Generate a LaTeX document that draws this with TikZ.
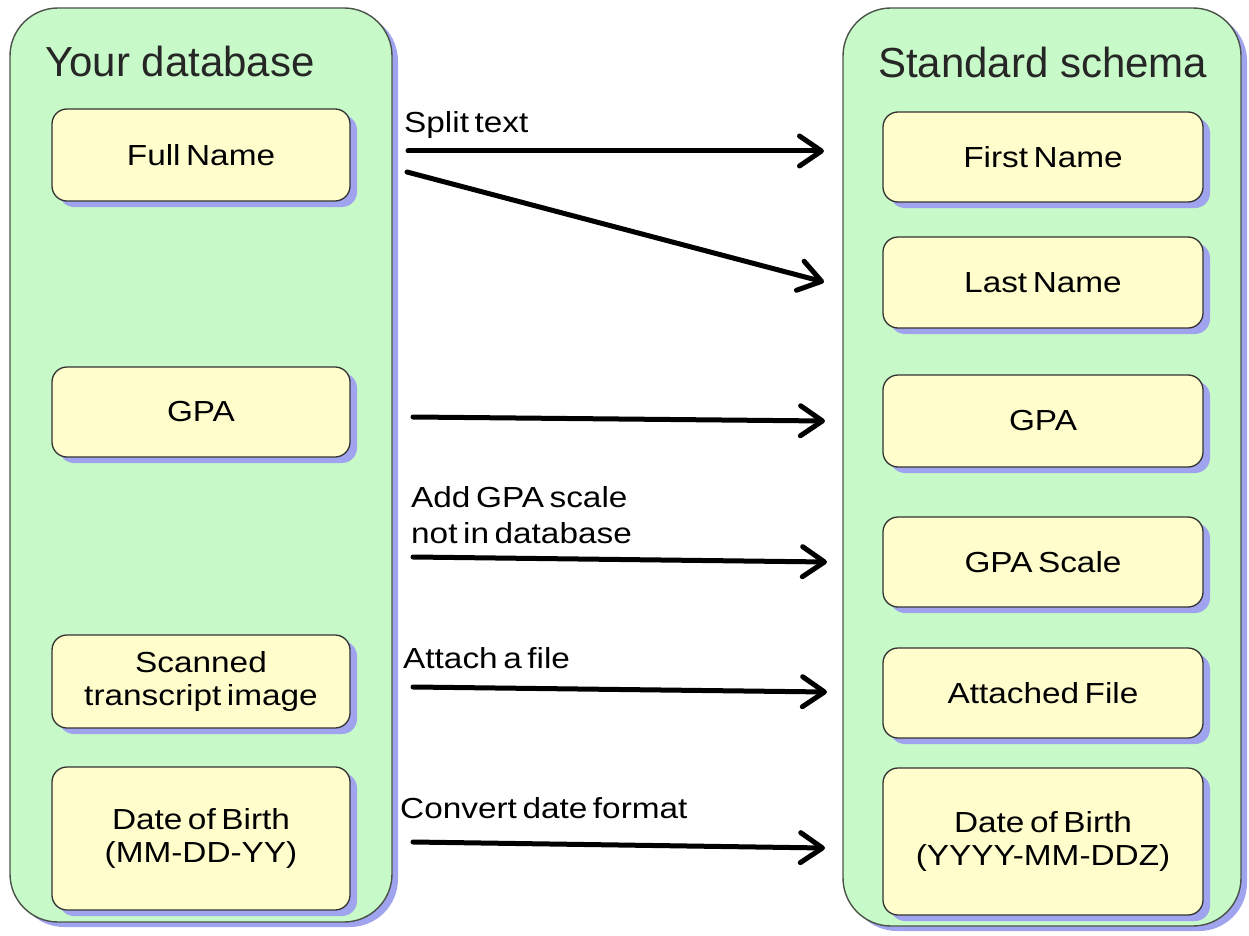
\documentclass[tikz,border=0pt]{standalone}
\usepackage{fontspec}
\setmainfont{Liberation Sans}
\newfontfamily\widefont[FakeStretch=1.15,WordSpace=0.6]{Liberation Sans}
\usetikzlibrary{arrows.meta,shadows}
\definecolor{cgreen}{HTML}{C8F9C8}
\definecolor{cyellow}{HTML}{FFFDCC}
\definecolor{cshadow}{HTML}{A0A4EE}
\definecolor{cborder}{HTML}{4A524A}
\tikzset{
  container/.style={draw=cborder, line width=1.4pt, fill=cgreen, rounded corners=48pt,
    drop shadow={shadow xshift=6pt, shadow yshift=-5pt, fill=cshadow, opacity=1}},
  field/.style={draw=black!80, line width=1.3pt, fill=cyellow, rounded corners=15pt,
    align=center, inner sep=0pt, font=\widefont\fontsize{29}{33}\selectfont,
    drop shadow={shadow xshift=7pt, shadow yshift=-6pt, fill=cshadow, opacity=1}},
  title/.style={anchor=base west, inner sep=0pt, font=\fontsize{42}{48}\selectfont, text=black!85},
  lbl/.style={anchor=base west, inner sep=0pt, align=left, font=\widefont\fontsize{29}{36}\selectfont},
  arr/.style={line width=5pt, line cap=round, -{Straight Barb[length=22pt,width=30pt,line cap=round,line join=round]}}
}
\begin{document}
\begin{tikzpicture}[x=1pt,y=-1pt]
\useasboundingbox (0,0) rectangle (1249,936);
% containers
\node[container, minimum width=382pt, minimum height=914pt] (leftc) at (201,465) {};
\node[container, minimum width=398pt, minimum height=918pt] (rightc) at (1042,467) {};
\node[title] (ltitle) at (45,77) {Your database};
\node[title] (rtitle) at (878,78) {Standard schema};
% left fields
\node[field, minimum width=298pt, minimum height=92pt] (fn) at (201,155) {Full Name};
\node[field, minimum width=298pt, minimum height=90pt] (gpal) at (201,412) {GPA};
\node[field, minimum width=298pt, minimum height=93pt] (scan) at (201,681.5) {Scanned\\transcript image};
\node[field, minimum width=298pt, minimum height=143pt] (dobl) at (201,838.5) {Date of Birth\\(MM-DD-YY)};
% right fields
\node[field, minimum width=320pt, minimum height=90pt] (first) at (1043,157) {First Name};
\node[field, minimum width=320pt, minimum height=91pt] (last) at (1043,282.5) {Last Name};
\node[field, minimum width=320pt, minimum height=92pt] (gpar) at (1043,421) {GPA};
\node[field, minimum width=320pt, minimum height=90pt] (scale) at (1043,562) {GPA Scale};
\node[field, minimum width=320pt, minimum height=90pt] (att) at (1043,693) {Attached File};
\node[field, minimum width=320pt, minimum height=147pt] (dobr) at (1043,841.5) {Date of Birth\\(YYYY-MM-DDZ)};
% arrow end points
\coordinate (s1) at (408,151); \coordinate (e1) at (824,151);
\coordinate (s2) at (407,172); \coordinate (e2) at (824,282);
\coordinate (s3) at (413,417); \coordinate (e3) at (825,421);
\coordinate (s4) at (413,557); \coordinate (e4) at (827,562);
\coordinate (s5) at (413,687); \coordinate (e5) at (827,692);
\coordinate (s6) at (413,842); \coordinate (e6) at (825,848);
\draw[arr] (s1) -- (e1);
\draw[arr] (s2) -- (e2);
\draw[arr] (s3) -- (e3);
\draw[arr] (s4) -- (e4);
\draw[arr] (s5) -- (e5);
\draw[arr] (s6) -- (e6);
% labels
\node[lbl] (l1) at (404,133) {Split text};
\node[lbl] (l4) at (411,543) {Add GPA scale\\not in database};
\node[lbl] (l5) at (403,668) {Attach a file};
\node[lbl] (l6) at (400,818) {Convert date format};
\end{tikzpicture}
\end{document}
